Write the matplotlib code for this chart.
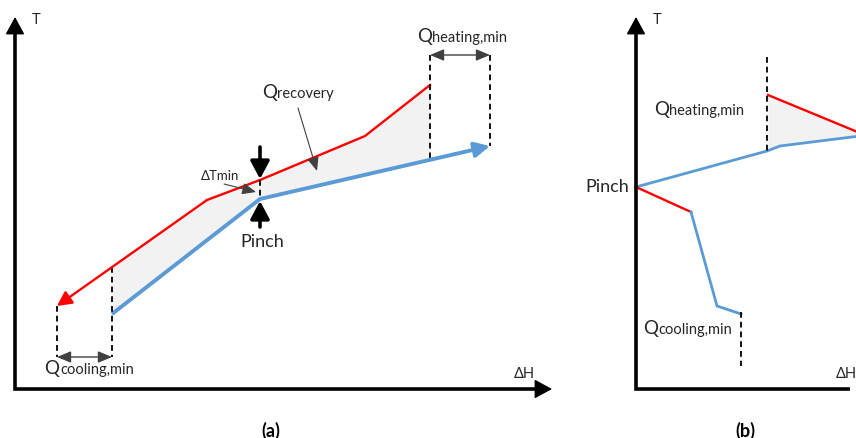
import numpy as np
import matplotlib.pyplot as plt

plt.rcParams['font.family'] = ['Lato', 'DejaVu Sans']

# diagram geometry in picture units (x right, y down)
# panel (a): composite curves
hot_a_x = [57, 207, 260, 365, 430]
hot_a_y = [307, 201, 181, 137, 86]
cold_a_x = [112, 260, 490]
cold_a_y = [315, 200, 147]
axis_a_corner = (15, 390)
axis_a_top = 18
axis_a_right = 552

# panel (b): grand composite style curves
hot_b_top_x = [768, 860]
hot_b_top_y = [96, 134]
cold_b_top_x = [636, 767, 780, 860]
cold_b_top_y = [188, 152, 147, 137]
hot_b_low_x = [636, 691]
hot_b_low_y = [188, 213]
cold_b_low_x = [691, 717, 741]
cold_b_low_y = [213, 307, 315]
axis_b_corner = (636, 390)
axis_b_top = 18
axis_b_right = 858

RED = '#FF0000'
BLUE = '#5B9BD5'
FILL = '#F2F2F2'
GREY = '#404040'
TXT = '#262626'

fig = plt.figure(figsize=(8.56, 4.39), dpi=100)
ax = fig.add_axes([0, 0, 1, 1])
ax.set_xlim(0, 856)
ax.set_ylim(439, 0)
ax.axis('off')
fig.canvas.draw()
renderer = fig.canvas.get_renderer()


def axes_L(corner, top, right):
    cx, cy = corner
    ax.plot([cx, cx, right - 8], [top + 8, cy, cy], color='black', lw=2.6,
            solid_joinstyle='miter', solid_capstyle='butt', zorder=5)
    for start, tip in [((cx, top + 14), (cx, top)), ((right - 14, cy), (right, cy))]:
        ax.annotate('', xy=tip, xytext=start,
                    arrowprops=dict(arrowstyle='-|>,head_length=0.55,head_width=0.3',
                                    color='black', lw=1, mutation_scale=20,
                                    shrinkA=0, shrinkB=0), zorder=6)


def arrow(start, tip, color, lw, hl=0.5, hw=0.25, ms=20, z=4):
    ax.annotate('', xy=tip, xytext=start,
                arrowprops=dict(arrowstyle=f'-|>,head_length={hl},head_width={hw}',
                                color=color, lw=lw, mutation_scale=ms,
                                shrinkA=0, shrinkB=0), zorder=z)


def dbl_arrow(x0, x1, y):
    ax.annotate('', xy=(x1, y), xytext=(x0, y),
                arrowprops=dict(arrowstyle='<|-|>,head_length=0.6,head_width=0.25',
                                color=GREY, lw=1, mutation_scale=14,
                                shrinkA=0, shrinkB=0), zorder=4)


def dashed(x, y0, y1):
    ax.plot([x, x], [y0, y1], color='black', lw=1.3, dashes=(3.2, 2.2), zorder=3)


def qlabel(x, y, sub, ha='left', big=13.5, small=10.5):
    # big "Q" followed by smaller text sharing the same baseline
    q = ax.text(x, y, 'Q', fontsize=big, color=TXT, va='baseline', ha='left')
    s = ax.text(x, y, sub, fontsize=small, color=TXT, va='baseline', ha='left')
    wq = q.get_window_extent(renderer).width
    ws = s.get_window_extent(renderer).width
    x0 = x - (wq + ws) / 2 if ha == 'center' else x
    q.set_x(x0)
    s.set_x(x0 + wq + 0.5)


# ---------- panel (a) ----------
axes_L(axis_a_corner, axis_a_top, axis_a_right)
ax.text(32, 20, 'T', fontsize=10.5, va='center', ha='left', color=TXT)
ax.text(524, 374, 'ΔH', fontsize=10.5, va='center', ha='center', color=TXT)

xf = np.array(sorted(set([112, 430] + [v for v in hot_a_x + cold_a_x if 112 <= v <= 430])))
ax.fill_between(xf, np.interp(xf, hot_a_x, hot_a_y), np.interp(xf, cold_a_x, cold_a_y),
                color=FILL, lw=0, zorder=1)

ax.plot(hot_a_x[1:], hot_a_y[1:], color=RED, lw=1.7, zorder=3)
arrow((hot_a_x[1], hot_a_y[1]), (hot_a_x[0], hot_a_y[0]), RED, 1.7, hl=0.55, hw=0.28, ms=16)
ax.plot(cold_a_x[:-1], cold_a_y[:-1], color=BLUE, lw=2.8, zorder=3, solid_capstyle='butt')
arrow((cold_a_x[1], cold_a_y[1]), (cold_a_x[2], cold_a_y[2]), BLUE, 2.8, hl=0.5, hw=0.25, ms=18)

# minimum utilities
dashed(hot_a_x[0], hot_a_y[0], 358)
dashed(cold_a_x[0], np.interp(cold_a_x[0], hot_a_x, hot_a_y), 358)
dbl_arrow(hot_a_x[0], cold_a_x[0], 358)
qlabel(89, 374, 'cooling,min', ha='center')

dashed(hot_a_x[-1], 56, np.interp(hot_a_x[-1], cold_a_x, cold_a_y))
dashed(cold_a_x[-1], 56, cold_a_y[-1])
dbl_arrow(hot_a_x[-1], cold_a_x[-1], 56)
qlabel(462, 42, 'heating,min', ha='center')

# recovery
qlabel(262, 98, 'recovery')
ax.annotate('', xy=(317, 172), xytext=(298, 109),
            arrowprops=dict(arrowstyle='-|>,head_length=0.6,head_width=0.25',
                            color=GREY, lw=0.8, mutation_scale=14, shrinkA=0, shrinkB=0),
            zorder=4)

# pinch
dashed(260, 181, 200)
arrow((260, 148), (260, 180), 'black', 2.6, hl=0.6, hw=0.32, ms=18, z=5)
arrow((260, 228), (260, 202), 'black', 2.6, hl=0.6, hw=0.32, ms=18, z=5)
ax.text(262, 242, 'Pinch', fontsize=13, ha='center', va='center', color=TXT)
ax.text(220, 176, 'ΔTmin', fontsize=9.5, ha='center', va='center', color=TXT)
ax.annotate('', xy=(256, 193), xytext=(224, 185),
            arrowprops=dict(arrowstyle='-|>,head_length=0.6,head_width=0.25',
                            color=GREY, lw=0.8, mutation_scale=14, shrinkA=0, shrinkB=0),
            zorder=4)

ax.text(271, 431, '(a)', fontsize=13, fontweight='bold', ha='center', va='center')

# ---------- panel (b) ----------
axes_L(axis_b_corner, axis_b_top, axis_b_right)
ax.text(653, 20, 'T', fontsize=10.5, va='center', ha='left', color=TXT)
ax.text(836, 374, 'ΔH', fontsize=10.5, va='center', ha='left', color=TXT)

xb = np.array([768, 780, 860])
ax.fill_between(xb, np.interp(xb, hot_b_top_x, hot_b_top_y),
                np.interp(xb, cold_b_top_x, cold_b_top_y), color=FILL, lw=0, zorder=1)
ax.plot(hot_b_top_x, hot_b_top_y, color=RED, lw=1.7, zorder=3)
ax.plot(cold_b_top_x, cold_b_top_y, color=BLUE, lw=2, zorder=3)
ax.plot(hot_b_low_x, hot_b_low_y, color=RED, lw=1.7, zorder=3)
ax.plot(cold_b_low_x, cold_b_low_y, color=BLUE, lw=2, zorder=3)

dashed(767, 58, 153)
dashed(741, 313, 367)
qlabel(654, 115, 'heating,min')
qlabel(643, 334, 'cooling,min')
ax.text(629, 187, 'Pinch', fontsize=13, ha='right', va='center', color=TXT)
ax.text(745, 431, '(b)', fontsize=13, fontweight='bold', ha='center', va='center')

fig.savefig('out.png', dpi=100)
